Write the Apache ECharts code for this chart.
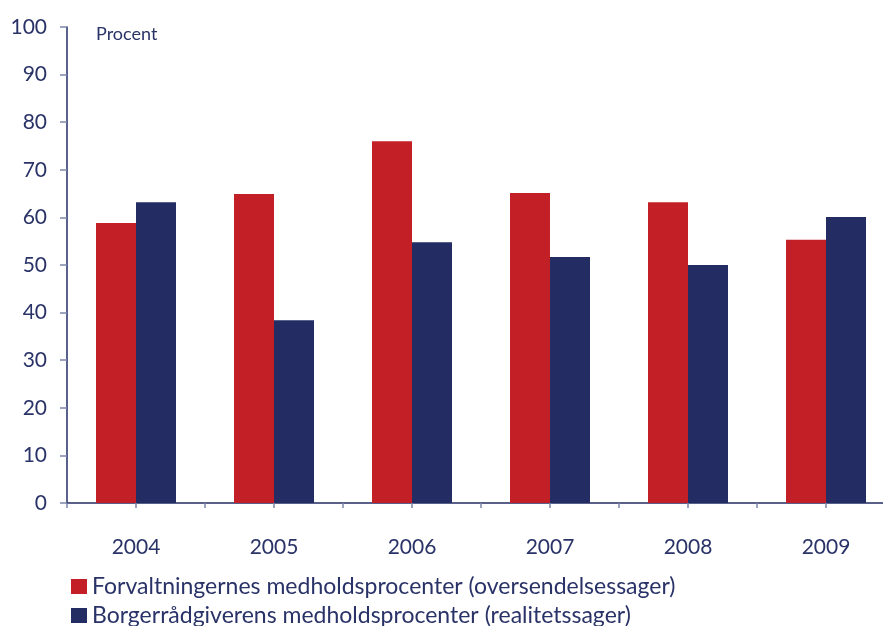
<!DOCTYPE html>
<html><head><meta charset="utf-8">
<script src="https://cdn.jsdelivr.net/npm/echarts@6/dist/echarts.min.js"></script>
<style>html,body{margin:0;padding:0;background:#fff}#c{width:883px;height:626px}</style>
</head><body><div id="c"></div>
<script>
const categories = ['2004','2005','2006','2007','2008','2009'];
const seriesNames = ['Forvaltningernes medholdsprocenter (oversendelsessager)','Borgerrådgiverens medholdsprocenter (realitetssager)'];
const redValues = [58.8, 64.9, 76.0, 65.1, 63.2, 55.3];
const blueValues = [63.2, 38.4, 54.8, 51.7, 50.0, 60.1];
const halfSlots = ['','','','','','','','','','','',''];
const unitLabel = 'Procent';

const navy = '#232d63';
const textColor = '#2a3368';
const font = 'Lato';
const legendBase = {
  orient: 'vertical', left: 66, itemWidth: 16, itemHeight: 15, icon: 'rect',
  textStyle: {fontFamily: font, fontSize: 23, color: textColor}
};
const chart = echarts.init(document.getElementById('c'));
chart.setOption({
  animation: false,
  textStyle: {fontFamily: font},
  title: {text: unitLabel, left: 91, top: 20, textStyle: {fontFamily: font, fontSize: 18, fontWeight: 'normal', color: textColor}},
  grid: {left: 67, width: 828, top: 27, bottom: 123, containLabel: false, outerBoundsMode: 'none'},
  legend: [
    Object.assign({}, legendBase, {top: 570, data: [seriesNames[0]]}),
    Object.assign({}, legendBase, {top: 599, data: [seriesNames[1]]})
  ],
  xAxis: [{
    type: 'category', data: categories,
    axisLine: {lineStyle: {color: navy, width: 1.5}},
    axisTick: {show: false},
    axisLabel: {fontFamily: font, fontSize: 21, color: textColor, margin: 34}
  }, {
    type: 'category', data: halfSlots, position: 'bottom',
    axisLine: {show: false},
    axisTick: {show: true, length: 5, lineStyle: {color: '#7d86ab', width: 1.5}},
    axisLabel: {show: false}
  }],
  yAxis: {
    type: 'value', min: 0, max: 100, interval: 10,
    splitLine: {show: false},
    axisLine: {show: true, lineStyle: {color: navy, width: 1.5}},
    axisTick: {show: true, length: 7, lineStyle: {color: '#7d86ab', width: 1.5}},
    axisLabel: {fontFamily: font, fontSize: 21, color: textColor, margin: 20}
  },
  series: [
    {name: seriesNames[0], type: 'bar', data: redValues, barWidth: 40, barGap: '0%', itemStyle: {color: '#c31f27'}},
    {name: seriesNames[1], type: 'bar', data: blueValues, barWidth: 40, barGap: '0%', itemStyle: {color: '#232d63'}}
  ]
});
</script></body></html>
